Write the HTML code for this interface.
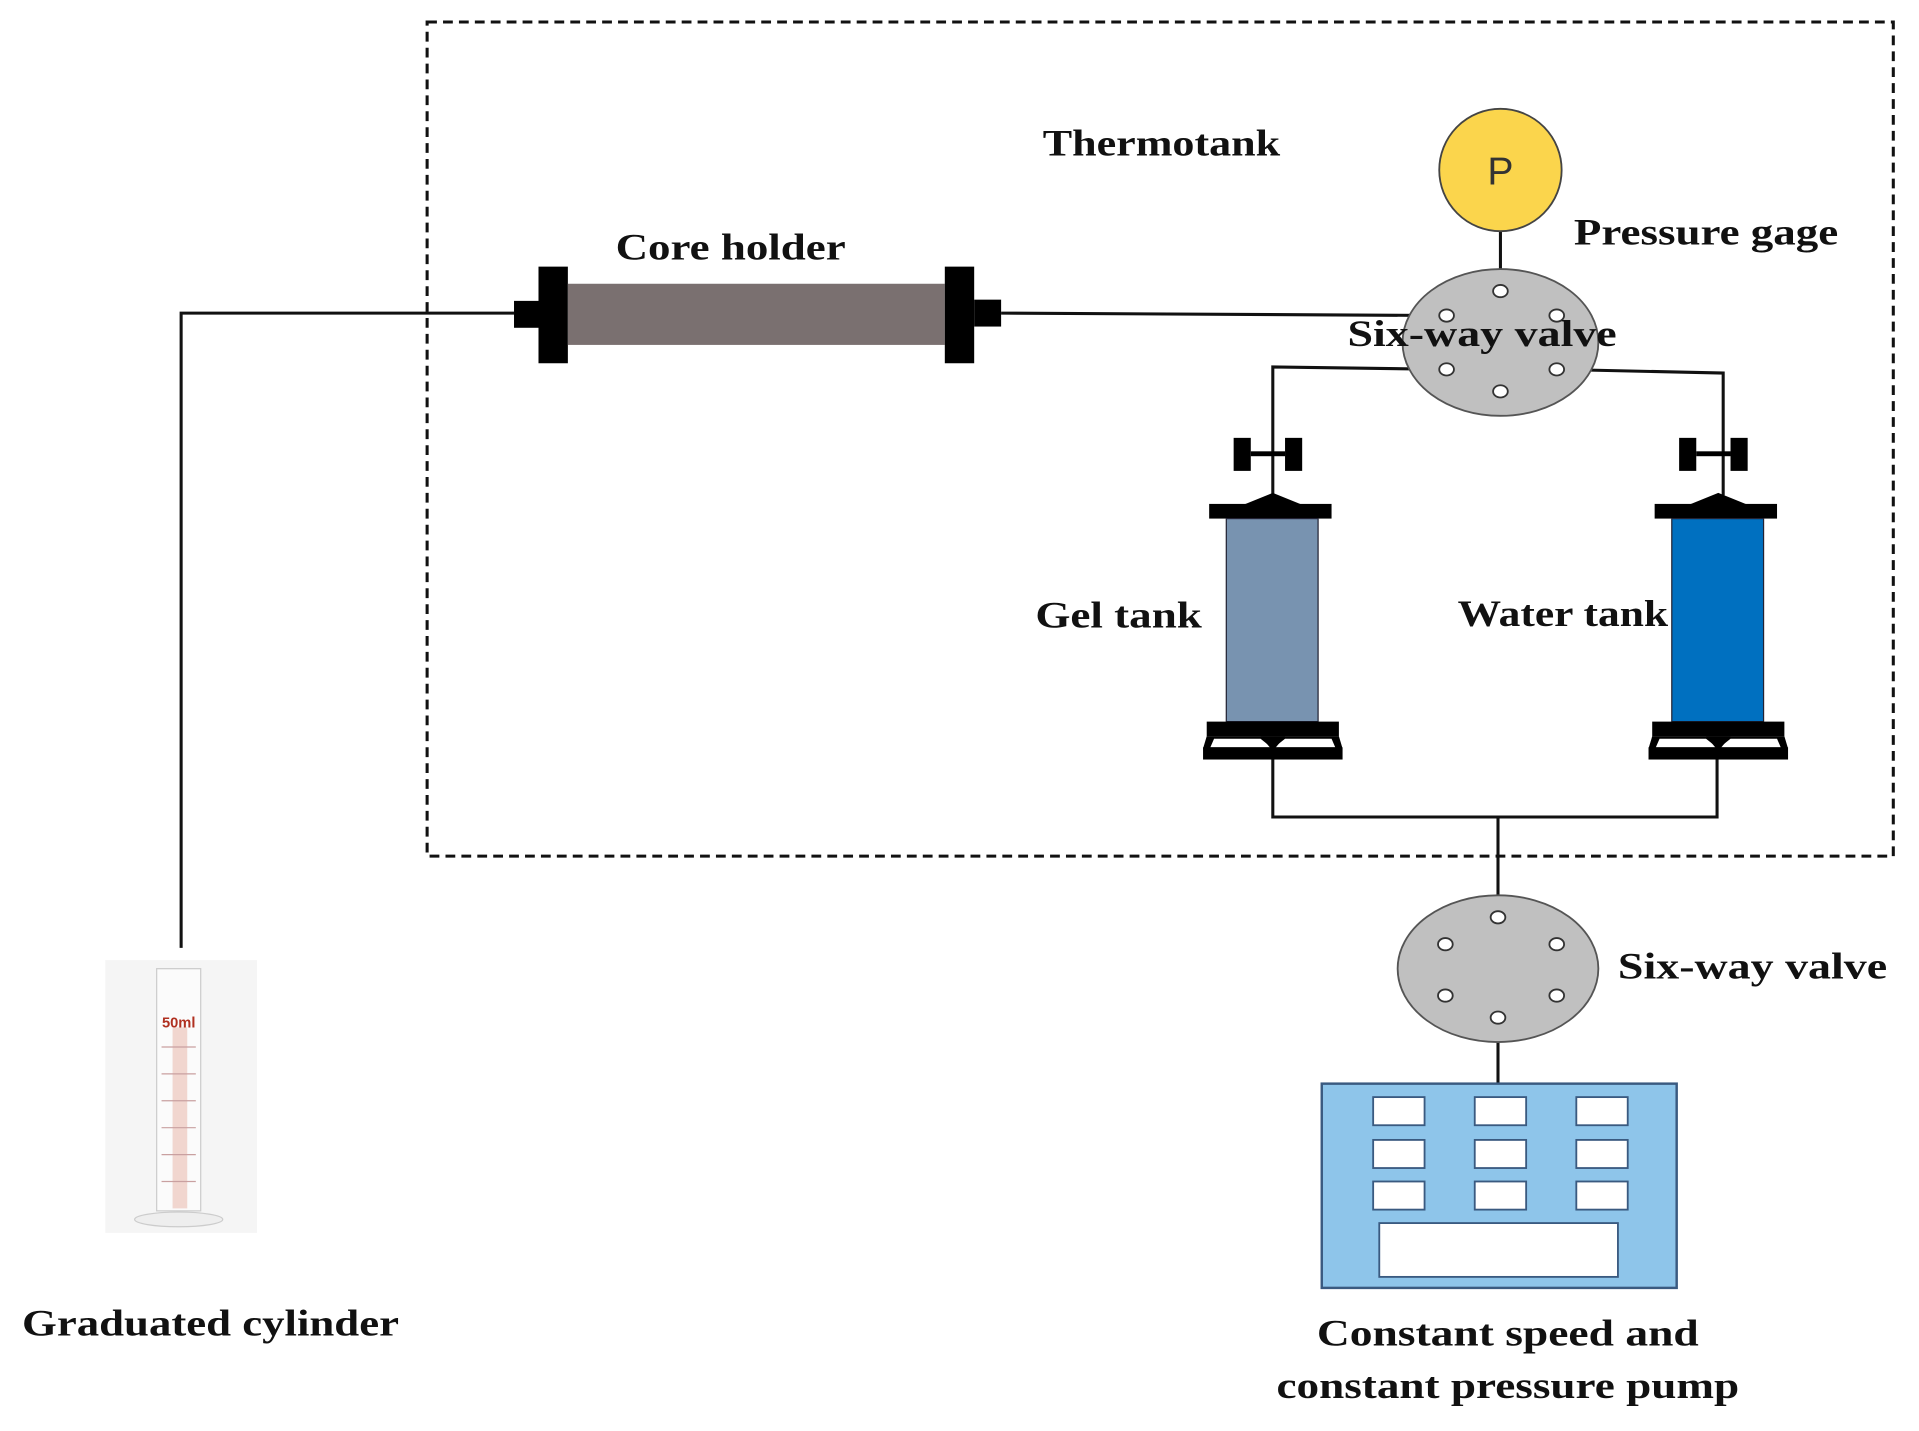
<!DOCTYPE html>
<html><head><meta charset="utf-8"><style>html,body{margin:0;padding:0;background:#fff}svg{display:block}</style></head>
<body>
<svg width="1919" height="1431" viewBox="0 0 1568 1170" preserveAspectRatio="none" xmlns="http://www.w3.org/2000/svg" font-family="Liberation Serif, serif" font-weight="bold" font-size="30" fill="#111">
<rect x="349" y="18" width="1198" height="682" fill="none" stroke="#111" stroke-width="2.5" stroke-dasharray="8 5"/>
<!-- lines -->
<g stroke="#111" stroke-width="2.5" fill="none">
<polyline points="148,775 148,256 420,256"/>
<polyline points="818,256 1182,258"/>
<line x1="1226" y1="189" x2="1226" y2="238"/>
<polyline points="1182,302 1040,300 1040,405"/>
<polyline points="1272,302 1408,305 1408,405"/>
<polyline points="1040,621 1040,668 1403,668 1403,621"/>
<line x1="1224" y1="668" x2="1224" y2="750"/>
<line x1="1224" y1="832" x2="1224" y2="886"/>
</g>
<!-- core holder -->
<rect x="420" y="246" width="22" height="22" fill="#000"/>
<rect x="440" y="218" width="24" height="79" fill="#000"/>
<rect x="464" y="232" width="308" height="50" fill="#7a7070"/>
<rect x="772" y="218" width="24" height="79" fill="#000"/>
<rect x="796" y="245" width="22" height="22" fill="#000"/>
<!-- pressure gage -->
<circle cx="1226" cy="139" r="50" fill="#fbd54c" stroke="#444" stroke-width="1.5"/>
<text x="1226" y="151" text-anchor="middle" font-family="Liberation Sans, sans-serif" font-weight="normal" font-size="32" fill="#333">P</text>
<!-- valve 1 -->
<ellipse cx="1226" cy="280" rx="80" ry="60" fill="#c0c0c0" stroke="#555" stroke-width="1.5"/>
<g fill="#fff" stroke="#333" stroke-width="1.5">
<ellipse cx="1182" cy="258" rx="6" ry="5"/><ellipse cx="1226" cy="238" rx="6" ry="5"/><ellipse cx="1272" cy="258" rx="6" ry="5"/>
<ellipse cx="1182" cy="302" rx="6" ry="5"/><ellipse cx="1226" cy="320" rx="6" ry="5"/><ellipse cx="1272" cy="302" rx="6" ry="5"/>
</g>
<!-- tanks -->
<g id="gt">
<rect x="1008" y="358" width="14" height="27" fill="#000"/><rect x="1050" y="358" width="14" height="27" fill="#000"/>
<rect x="1022" y="369" width="28" height="4" fill="#000"/>
<polygon points="1040,403 1008,416 1072,416" fill="#000"/>
<rect x="988" y="412" width="100" height="12" fill="#000"/>
<rect x="1002" y="424" width="75" height="166" fill="#7893b0" stroke="#223" stroke-width="1"/>
<rect x="986" y="590" width="108" height="12" fill="#000"/>
<polygon points="986,602 1094,602 1097,612 983,612" fill="#000"/>
<polygon points="992,604 1030,604 1040,612 1050,604 1088,604 1091,611 989,611" fill="#fff"/>
<polygon points="1030,602 1050,602 1040,614" fill="#000"/>
<rect x="983" y="611" width="114" height="10" fill="#000"/>
</g>
<g transform="translate(364,0)">
<rect x="1008" y="358" width="14" height="27" fill="#000"/><rect x="1050" y="358" width="14" height="27" fill="#000"/>
<rect x="1022" y="369" width="28" height="4" fill="#000"/>
<polygon points="1040,403 1008,416 1072,416" fill="#000"/>
<rect x="988" y="412" width="100" height="12" fill="#000"/>
<rect x="1002" y="424" width="75" height="166" fill="#0070c0" stroke="#223" stroke-width="1"/>
<rect x="986" y="590" width="108" height="12" fill="#000"/>
<polygon points="986,602 1094,602 1097,612 983,612" fill="#000"/>
<polygon points="992,604 1030,604 1040,612 1050,604 1088,604 1091,611 989,611" fill="#fff"/>
<polygon points="1030,602 1050,602 1040,614" fill="#000"/>
<rect x="983" y="611" width="114" height="10" fill="#000"/>
</g>
<!-- valve 2 -->
<ellipse cx="1224" cy="792" rx="82" ry="60" fill="#c0c0c0" stroke="#555" stroke-width="1.5"/>
<g fill="#fff" stroke="#333" stroke-width="1.5">
<ellipse cx="1224" cy="750" rx="6" ry="5"/><ellipse cx="1181" cy="772" rx="6" ry="5"/><ellipse cx="1272" cy="772" rx="6" ry="5"/>
<ellipse cx="1181" cy="814" rx="6" ry="5"/><ellipse cx="1272" cy="814" rx="6" ry="5"/><ellipse cx="1224" cy="832" rx="6" ry="5"/>
</g>
<!-- pump -->
<rect x="1080" y="886" width="290" height="167" fill="#8ec5ea" stroke="#3a5a80" stroke-width="2"/>
<g fill="#fff" stroke="#3a5a80" stroke-width="1.5">
<rect x="1122" y="897" width="42" height="23"/><rect x="1205" y="897" width="42" height="23"/><rect x="1288" y="897" width="42" height="23"/>
<rect x="1122" y="932" width="42" height="23"/><rect x="1205" y="932" width="42" height="23"/><rect x="1288" y="932" width="42" height="23"/>
<rect x="1122" y="966" width="42" height="23"/><rect x="1205" y="966" width="42" height="23"/><rect x="1288" y="966" width="42" height="23"/>
<rect x="1127" y="1000" width="195" height="44"/>
</g>
<!-- cylinder -->
<rect x="86" y="785" width="124" height="223" fill="#f5f5f5"/>
<rect x="128" y="792" width="36" height="198" fill="#fbfbfb" stroke="#ccc" stroke-width="1"/>
<rect x="141" y="840" width="12" height="148" fill="#f1d6cf"/>
<text x="146" y="840" text-anchor="middle" font-size="12" fill="#b03020" font-family="Liberation Sans, sans-serif">50ml</text>
<g stroke="#c9a0a0" stroke-width="1">
<line x1="132" y1="856" x2="160" y2="856"/><line x1="132" y1="878" x2="160" y2="878"/><line x1="132" y1="900" x2="160" y2="900"/><line x1="132" y1="922" x2="160" y2="922"/><line x1="132" y1="944" x2="160" y2="944"/><line x1="132" y1="966" x2="160" y2="966"/>
</g>
<ellipse cx="146" cy="997" rx="36" ry="6" fill="#eee" stroke="#ccc"/>
<!-- labels -->
<text x="852" y="127" textLength="194" lengthAdjust="spacingAndGlyphs">Thermotank</text>
<text x="503" y="212" textLength="188" lengthAdjust="spacingAndGlyphs">Core holder</text>
<text x="1286" y="200" textLength="216" lengthAdjust="spacingAndGlyphs">Pressure gage</text>
<text x="1101" y="283" textLength="220" lengthAdjust="spacingAndGlyphs">Six-way valve</text>
<text x="846" y="513" textLength="136" lengthAdjust="spacingAndGlyphs">Gel tank</text>
<text x="1191" y="512" textLength="172" lengthAdjust="spacingAndGlyphs">Water tank</text>
<text x="1322" y="800" textLength="220" lengthAdjust="spacingAndGlyphs">Six-way valve</text>
<text x="18" y="1092" textLength="308" lengthAdjust="spacingAndGlyphs">Graduated cylinder</text>
<text x="1076" y="1100" textLength="312" lengthAdjust="spacingAndGlyphs">Constant speed and</text>
<text x="1043" y="1143" textLength="378" lengthAdjust="spacingAndGlyphs">constant pressure pump</text>
</svg>
</body></html>
